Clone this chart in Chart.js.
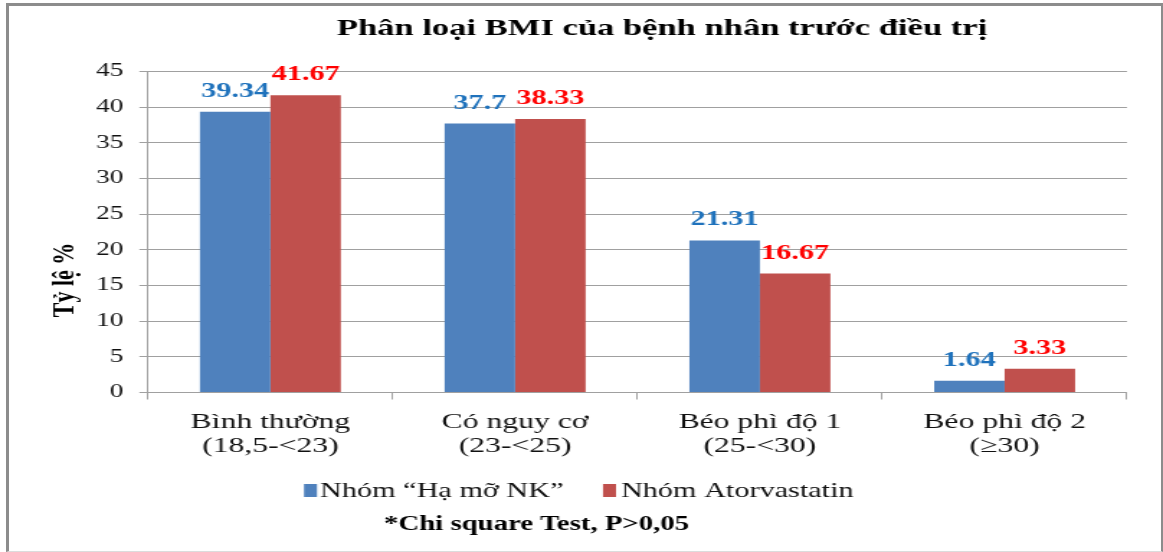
<!DOCTYPE html>
<html>
<head>
<meta charset="utf-8">
<title>Phân loại BMI của bệnh nhân trước điều trị</title>
<script src="https://cdn.jsdelivr.net/npm/chart.js@4.4.1/dist/chart.umd.min.js"></script>
<style>
  html, body { margin: 0; padding: 0; background: #fff; }
  #wrap { position: relative; width: 1163px; height: 552px; overflow: hidden; }
  #bmiChart { position: absolute; left: 0; top: 0; }
  #frame {
    position: absolute; left: 6px; top: 3px; right: 0; bottom: 0;
    border: 3px solid #8c8c8c; border-right-width: 2px;
    border-bottom: 1px solid #dcdcdc; pointer-events: none;
  }
</style>
</head>
<body>
<div id="wrap">
  <!-- the chart is drawn narrow and stretched sideways, like the picture -->
  <canvas id="bmiChart" width="808" height="552" style="width:1163px;height:552px"></canvas>
  <div id="frame"></div>
</div>
<script>
const categories = [
  ['Bình thường', '(18,5-<23)'],
  ['Có nguy cơ', '(23-<25)'],
  ['Béo phì độ 1', '(25-<30)'],
  ['Béo phì độ 2', '(≥30)']
];
const seriesNames = ['Nhóm “Hạ mỡ NK”', 'Nhóm Atorvastatin'];
const haMoNK = [39.34, 37.7, 21.31, 1.64];
const atorvastatin = [41.67, 38.33, 16.67, 3.33];
const yMin = 0, yMax = 45, yStep = 5;

const chartTitle = 'Phân loại BMI của bệnh nhân trước điều trị';
const yTitle = 'Tỷ lệ %';
const footnote = '*Chi square Test, P>0,05';

const barColors = ['#4F81BD', '#C0504D'];
const valueColors = ['#1F72BC', '#FF0000'];
const serif = '"Liberation Serif", "Times New Roman", serif';

// horizontal stretch of the whole picture
const SX = 1163 / 808;
const px = x => x / SX;

const decorations = {
  id: 'decorations',
  afterDatasetsDraw(chart) {
    const ctx = chart.ctx;
    chart.data.datasets.forEach((ds, i) => {
      const meta = chart.getDatasetMeta(i);
      ctx.save();
      ctx.font = 'bold 21px ' + serif;
      ctx.fillStyle = valueColors[i];
      ctx.textAlign = 'center';
      ctx.textBaseline = 'alphabetic';
      meta.data.forEach((bar, j) => {
        ctx.fillText(String(ds.data[j]), bar.x, bar.y - 15);
      });
      ctx.restore();
    });
  },
  afterDraw(chart) {
    const ctx = chart.ctx;
    ctx.save();
    ctx.fillStyle = '#000';
    ctx.textBaseline = 'alphabetic';

    // title
    ctx.font = 'bold 24px ' + serif;
    ctx.textAlign = 'center';
    ctx.fillText(chartTitle, px(662), 35);

    // y axis title
    ctx.save();
    ctx.translate(px(74), 280);
    ctx.rotate(-Math.PI / 2);
    ctx.font = 'bold 22px ' + serif;
    ctx.fillText(yTitle, 0, 0);
    ctx.restore();

    // legend
    const keyX = [px(304), px(603)];
    const textX = [px(320), px(621)];
    ctx.font = '21px ' + serif;
    ctx.textAlign = 'left';
    chart.data.datasets.forEach((ds, i) => {
      ctx.fillStyle = ds.backgroundColor;
      ctx.fillRect(keyX[i], 484, px(13), 13);
      ctx.fillStyle = '#111';
      ctx.fillText(ds.label, textX[i], 497);
    });

    // footnote
    ctx.fillStyle = '#000';
    ctx.font = 'bold 20px ' + serif;
    ctx.fillText(footnote, px(384), 530);
    ctx.restore();
  }
};

new Chart(document.getElementById('bmiChart'), {
  type: 'bar',
  data: {
    labels: categories,
    datasets: [
      { label: seriesNames[0], data: haMoNK, backgroundColor: barColors[0] },
      { label: seriesNames[1], data: atorvastatin, backgroundColor: barColors[1] }
    ]
  },
  options: {
    responsive: false,
    devicePixelRatio: 1,
    animation: false,
    categoryPercentage: 0.576,
    barPercentage: 1,
    layout: { padding: { left: 0, right: 808 - px(1127), top: 71.5, bottom: 0 } },
    plugins: {
      legend: { display: false },
      title: { display: false },
      tooltip: { enabled: false }
    },
    scales: {
      x: {
        afterFit: (scale) => { scale.height = 552 - 392.5; },
        grid: {
          offset: true,
          drawOnChartArea: false,
          color: '#a0a0a0',
          tickLength: 7
        },
        border: { color: '#a0a0a0' },
        ticks: {
          color: '#111',
          padding: 11,
          maxRotation: 0,
          autoSkip: false,
          font: { family: serif, size: 22, lineHeight: 1.09 }
        }
      },
      y: {
        min: yMin,
        max: yMax,
        afterFit: (scale) => { scale.width = px(148); },
        grid: { color: '#a0a0a0', tickLength: 6 },
        border: { color: '#a0a0a0' },
        ticks: {
          stepSize: yStep,
          color: '#111',
          padding: 11,
          font: { family: serif, size: 19 }
        }
      }
    }
  },
  plugins: [decorations]
});
</script>
</body>
</html>
